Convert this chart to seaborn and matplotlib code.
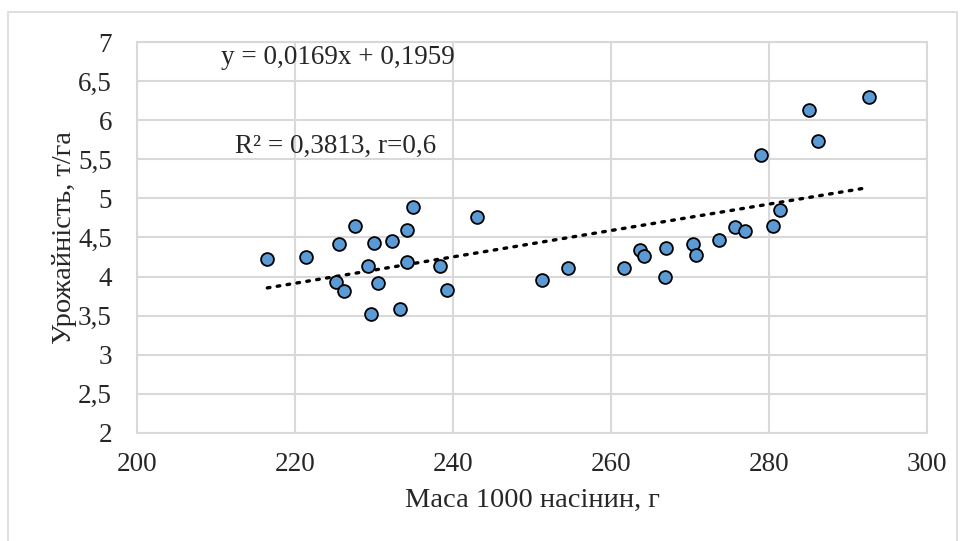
import numpy as np
import pandas as pd
import matplotlib
matplotlib.use("Agg")
import matplotlib.pyplot as plt
import seaborn as sns

# === Data ===
mass = [216.5, 221.4, 225.6, 227.6, 225.2, 226.2, 229.2, 230.0, 230.5, 229.6,
        232.3, 234.2, 234.2, 234.9, 233.3, 238.4, 239.2, 243.0,
        251.3, 254.6, 261.6, 263.7, 264.1, 266.9, 266.8,
        270.4, 270.7, 273.6, 275.7, 276.9, 278.9, 280.5, 281.4, 285.0, 286.2, 292.6]
yield_t = [4.23, 4.25, 4.42, 4.65, 3.93, 3.82, 4.14, 4.43, 3.92, 3.52,
           4.45, 4.59, 4.18, 4.89, 3.59, 4.13, 3.83, 4.76,
           3.95, 4.11, 4.11, 4.34, 4.26, 4.36, 3.99,
           4.42, 4.28, 4.47, 4.64, 4.58, 5.55, 4.65, 4.85, 6.13, 5.73, 6.30]
slope, intercept = 0.0169, 0.1959
y_ticks = [2, 2.5, 3, 3.5, 4, 4.5, 5, 5.5, 6, 6.5, 7]
x_ticks = [200, 220, 240, 260, 280, 300]

df = pd.DataFrame({"mass": mass, "yield": yield_t})

# === Style ===
sns.set_style("white")
plt.rcParams["font.family"] = ["Liberation Serif", "DejaVu Serif"]
grid_c = "#D9D9D9"

fig = plt.figure(figsize=(9.64, 5.41), dpi=100)
ax = fig.add_axes([0.142, 0.200, 0.820, 0.722])

# outer chart border
fig.patches.append(plt.Rectangle((0.008, -0.02), 0.985, 0.997, transform=fig.transFigure,
                                 fill=False, edgecolor=grid_c, linewidth=1.2))

# trendline
xl = np.array([min(mass), max(mass)])
ax.plot(xl, slope * xl + intercept, color="black", linestyle=(0, (0.8, 2.2)),
        linewidth=2.4, dash_capstyle="round", zorder=2)

sns.scatterplot(data=df, x="mass", y="yield", ax=ax, s=85, color="#5B9BD5",
                edgecolor="black", linewidth=1.3, zorder=3)

ax.set_xlim(200, 300)
ax.set_ylim(2, 7)
ax.set_xticks(x_ticks)
ax.set_yticks(y_ticks)
ax.set_xticklabels([str(t) for t in x_ticks])
ax.set_yticklabels([f"{t:g}".replace(".", ",") for t in y_ticks])
ax.tick_params(length=0, labelsize=19.5)
ax.tick_params(axis="y", pad=18)
ax.tick_params(axis="x", pad=14)
ax.grid(True, color=grid_c, linewidth=1.5)
ax.set_axisbelow(True)
for s in ax.spines.values():
    s.set_color(grid_c)
    s.set_linewidth(1.5)

ax.set_xlabel("Маса 1000 насінин, г", fontsize=20.5, labelpad=8)
ax.set_ylabel("Урожайність, т/га", fontsize=20.5, labelpad=0.5)

ax.text(210.6, 6.81, "y = 0,0169x + 0,1959", fontsize=19.5, va="center", ha="left")
ax.text(212.4, 5.665, "R² = 0,3813, r=0,6", fontsize=19.5, va="center", ha="left")

plt.savefig("out.png", dpi=100)
